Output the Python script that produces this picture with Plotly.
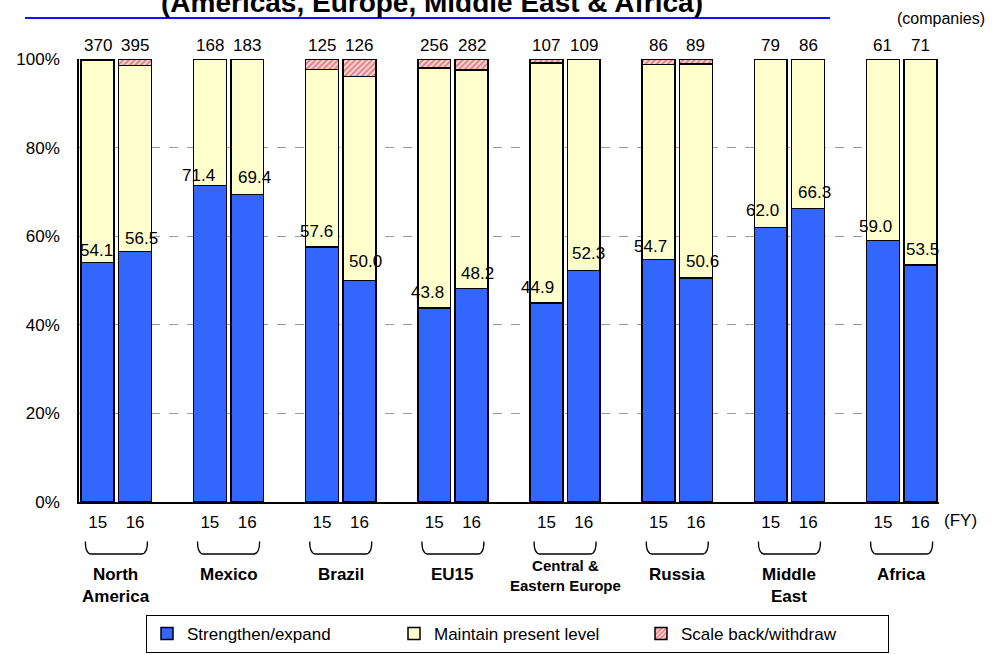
import plotly.graph_objects as go

# ---------------- data ----------------
regions = ["North<br>America", "Mexico", "Brazil", "EU15",
           "Central &<br>Eastern Europe", "Russia", "Middle<br>East", "Africa"]
years = ["15", "16"]
counts = [[370, 395], [168, 183], [125, 126], [256, 282],
          [107, 109], [86, 89], [79, 86], [61, 71]]
strengthen = [[54.1, 56.5], [71.4, 69.4], [57.6, 50.0], [43.8, 48.2],
              [44.9, 52.3], [54.7, 50.6], [62.0, 66.3], [59.0, 53.5]]
maintain = [[45.6, 42.0], [28.6, 30.6], [40.0, 46.0], [54.2, 49.3],
            [54.2, 47.7], [44.1, 48.3], [38.0, 33.7], [41.0, 46.5]]
scaleback = [[0.3, 1.5], [0.0, 0.0], [2.4, 4.0], [2.0, 2.5],
             [0.9, 0.0], [1.2, 1.1], [0.0, 0.0], [0.0, 0.0]]
y_ticks = [0, 20, 40, 60, 80, 100]
y_ticktext = ["0%", "20%", "40%", "60%", "80%", "100%"]
series_names = ["Strengthen/expand", "Maintain present level", "Scale back/withdraw"]

# ---------------- style / layout helpers ----------------
FONT = "Arial, 'Liberation Sans', sans-serif"
W, H = 994, 655
PL, PR, PT, PB = 79, 939, 59, 502  # plot area pixels


def py(p):
    return (PB - p) / (PB - PT)


def px(p):
    return (p - PL) / (PR - PL)


# label nudges in pixels (x shift, y above bar top)
lab_dx = [-1, 6, -11, 7, -6, 6, -7, 6, -9, 5, -8, 7, -8, 6, -7, 2]
lab_dy = [12, 13, 10, 17, 15, 19, 15, 15, 16, 17, 13, 16, 17, 16, 14, 16]

xs, s_vals, m_vals, b_vals, xtext, cnts = [], [], [], [], [], []
for g in range(len(regions)):
    for k in range(len(years)):
        xs.append(3 * g + k)
        s_vals.append(strengthen[g][k])
        m_vals.append(maintain[g][k])
        b_vals.append(scaleback[g][k])
        xtext.append(years[k])
        cnts.append(counts[g][k])

line = dict(color="black", width=1.5)
fig = go.Figure()
fig.add_trace(go.Bar(x=xs, y=s_vals, name=series_names[0], width=0.88,
                     marker=dict(color="#3366FF", line=line)))
fig.add_trace(go.Bar(x=xs, y=m_vals, name=series_names[1], width=0.88,
                     marker=dict(color="#FFFFCC", line=line)))
fig.add_trace(go.Bar(x=xs, y=b_vals, name=series_names[2], width=0.88,
                     marker=dict(color="#FFFFFF", line=line,
                                 pattern=dict(shape="/", fgcolor="#C82626",
                                              bgcolor="#FFE4E4", size=4,
                                              solidity=0.6))))

ann = []
# value labels
for i, (x, v) in enumerate(zip(xs, s_vals)):
    ann.append(dict(x=x, y=v, xref="x", yref="y", text=f"{v:.1f}",
                    showarrow=False, xanchor="center", yanchor="middle",
                    xshift=lab_dx[i], yshift=lab_dy[i],
                    font=dict(family=FONT, size=17, color="black")))
# count labels
for x, c in zip(xs, cnts):
    ann.append(dict(x=x, y=py(45), xref="x", yref="paper", text=str(c),
                    showarrow=False, xanchor="center", yanchor="middle",
                    font=dict(family=FONT, size=17, color="black")))
# region labels and braces
shapes = []
y_top, y_bot = py(541.5), py(554)
for g, r in enumerate(regions):
    c = 3 * g + 0.5
    small = "Central" in r
    ann.append(dict(x=c, y=py(555 if small else 563), xref="x", yref="paper",
                    text=f"<b>{r}</b>", showarrow=False, xanchor="center",
                    yanchor="top",
                    font=dict(family=FONT, size=15 if small else 17, color="black")))
    x0, x1, rr = c - 0.83, c + 0.83, 0.16
    path = (f"M {x0},{y_top} Q {x0},{y_bot} {x0 + rr},{y_bot} "
            f"L {x1 - rr},{y_bot} Q {x1},{y_bot} {x1},{y_top}")
    shapes.append(dict(type="path", path=path, xref="x", yref="paper",
                       line=dict(color="black", width=1.3)))
# FY unit
ann.append(dict(x=px(960), y=py(520), xref="paper", yref="paper", text="(FY)",
                showarrow=False, xanchor="center", yanchor="middle",
                font=dict(family=FONT, size=17, color="black")))
# companies unit
ann.append(dict(x=px(987), y=py(18), xref="paper", yref="paper", text="(companies)",
                showarrow=False, xanchor="right", yanchor="middle",
                font=dict(family=FONT, size=16, color="black")))
# cropped title (cut off at the top edge as in the reference)
ann.append(dict(x=px(432), y=py(20), xref="paper", yref="paper",
                text="<b>(Americas, Europe, Middle East & Africa)</b>",
                showarrow=False, xanchor="center", yanchor="bottom",
                font=dict(family=FONT, size=28, color="black")))
shapes.append(dict(type="line", xref="paper", yref="paper",
                   x0=px(25), x1=px(830), y0=py(18), y1=py(18),
                   line=dict(color="#1414F0", width=2)))

fig.update_layout(
    width=W, height=H,
    barmode="stack",
    plot_bgcolor="white", paper_bgcolor="white",
    margin=dict(l=PL, r=W - PR, t=PT, b=H - PB, autoexpand=False),
    font=dict(family=FONT, size=17, color="black"),
    annotations=ann, shapes=shapes,
    showlegend=True,
    legend=dict(orientation="h", x=px(146), y=py(615), xanchor="left",
                yanchor="top", bordercolor="black", borderwidth=1,
                font=dict(family=FONT, size=17, color="black"),
                traceorder="normal", entrywidth=202, itemwidth=30,
                bgcolor="white"),
    xaxis=dict(range=[-0.5, 22.5], tickvals=xs, ticktext=xtext,
               showgrid=False, zeroline=False, showline=True,
               linecolor="black", linewidth=1.5, ticks="",
               ticklabelstandoff=4,
               tickfont=dict(family=FONT, size=17, color="black")),
    yaxis=dict(range=[0, 100], tickvals=y_ticks, ticktext=y_ticktext,
               showgrid=True, gridcolor="#9A9A9A", griddash="dash", gridwidth=1,
               zeroline=False, showline=True, linecolor="black", linewidth=1.5,
               ticks="", ticklabelstandoff=14,
               tickfont=dict(family=FONT, size=17, color="black")),
)

fig.write_html("out.html")
